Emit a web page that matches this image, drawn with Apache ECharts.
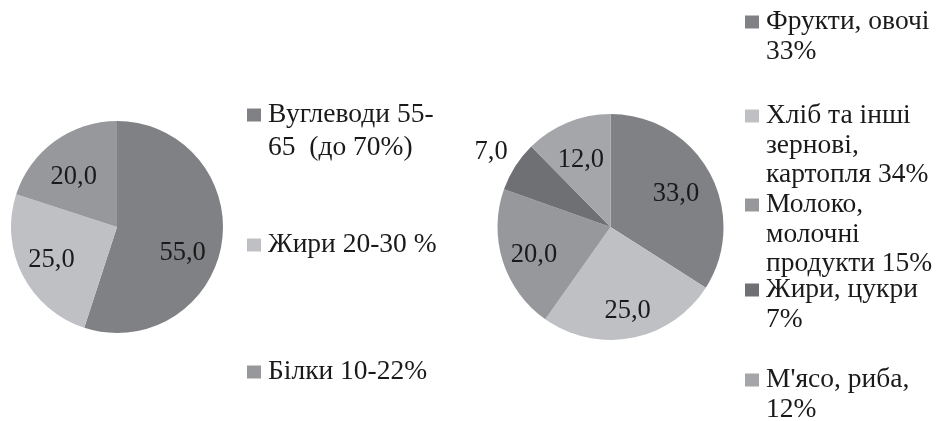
<!DOCTYPE html>
<html>
<head>
<meta charset="utf-8">
<script src="https://cdn.jsdelivr.net/npm/echarts@6/dist/echarts.min.js"></script>
<style>
html,body{margin:0;padding:0;background:#fff;}
#chart{width:936px;height:421px;}
</style>
</head>
<body>
<div id="chart"></div>
<script>
// ---- data ----
const leftCategories = ['Вуглеводи 55-65  (до 70%)', 'Жири 20-30 %', 'Білки 10-22%'];
const leftValues = [55, 25, 20];
const leftLegendLines = [['Вуглеводи 55-', '65  (до 70%)'], ['Жири 20-30 %'], ['Білки 10-22%']];

const rightCategories = ['Фрукти, овочі 33%', 'Хліб та інші зернові, картопля 34%', 'Молоко, молочні продукти 15%', 'Жири, цукри 7%', "М'ясо, риба, 12%"];
const rightValues = [33, 25, 20, 7, 12];
const rightLegendLines = [['Фрукти, овочі', '33%'], ['Хліб та інші', 'зернові,', 'картопля 34%'], ['Молоко,', 'молочні', 'продукти 15%'], ['Жири, цукри', '7%'], ["М'ясо, риба,", '12%']];

// ---- styles / layout ----
const leftColors = ['#808185', '#bfc0c4', '#97989c'];
const rightColors = ['#808185', '#bfc0c4', '#97989c', '#6f7074', '#a5a6aa'];
const leftLabelOffsets = [[-7, 15], [0, 0], [0, 10]];
const rightLabelOffsets = [[-3, 5], [2, 7], [-2, 4], [11, -6], [0, 5]];
const FONT = 'Liberation Serif';
const leftPie = {cx: 117, cy: 227, r: 106};
const rightPie = {cx: 610.5, cy: 227, r: 113};
const leftLegend = {left: 247, lh: 33, firstLine: [115, 245, 372]};
const rightLegend = {left: 745, lh: 29.5, firstLine: [22, 116, 205, 290, 380]};

function fmt(v) { return v.toFixed(1).replace('.', ','); }

function pieSeries(p, cats, vals, colors) {
  return {
    type: 'pie',
    center: [p.cx, p.cy],
    radius: [0, p.r],
    startAngle: 90,
    clockwise: true,
    avoidLabelOverlap: false,
    silent: true,
    label: {show: false},
    labelLine: {show: false},
    data: cats.map((n, i) => ({name: n, value: vals[i], itemStyle: {color: colors[i]}}))
  };
}
function labelSeries(p, cats, vals, outsideIdx, offsets) {
  return {
    type: 'pie',
    center: [p.cx, p.cy],
    radius: [p.r * 0.33, p.r],
    startAngle: 90,
    clockwise: true,
    avoidLabelOverlap: false,
    silent: true,
    itemStyle: {color: 'rgba(0,0,0,0)'},
    label: {show: true, position: 'inside', fontFamily: FONT, fontSize: 26.5, color: '#1a1a1a',
      formatter: (d) => fmt(d.value)},
    labelLine: {show: false},
    data: cats.map((n, i) => {
      const o = {name: n, value: vals[i], label: {offset: offsets[i]}};
      if (i === outsideIdx) {
        o.label = {position: 'outside', distance: 0, offset: offsets[i]};
        o.labelLine = {show: false, length: 16, length2: 0};
      }
      return o;
    })
  };
}
function legends(cfg, cats, lines) {
  return cats.map((name, i) => {
    const n = lines[i].length;
    return {
      left: cfg.left,
      top: cfg.firstLine[i] - (2 * n - 1) * cfg.lh / 2,
      orient: 'vertical',
      padding: 0,
      icon: 'rect',
      itemWidth: 14,
      itemHeight: 13,
      selectedMode: false,
      data: [name],
      // leading blank lines keep the marker level with the first text line
      formatter: () => '\n'.repeat(n - 1) + lines[i].join('\n'),
      textStyle: {fontFamily: FONT, fontSize: 27.5, color: '#1a1a1a', lineHeight: cfg.lh, padding: [0, 0, 0, 2]}
    };
  });
}

const chart = echarts.init(document.getElementById('chart'), null, {renderer: 'canvas'});
chart.setOption({
  animation: false,
  backgroundColor: '#fff',
  legend: legends(leftLegend, leftCategories, leftLegendLines).concat(legends(rightLegend, rightCategories, rightLegendLines)),
  series: [
    pieSeries(leftPie, leftCategories, leftValues, leftColors),
    pieSeries(rightPie, rightCategories, rightValues, rightColors),
    labelSeries(leftPie, leftCategories, leftValues, -1, leftLabelOffsets),
    labelSeries(rightPie, rightCategories, rightValues, 3, rightLabelOffsets)
  ]
});
</script>
</body>
</html>
